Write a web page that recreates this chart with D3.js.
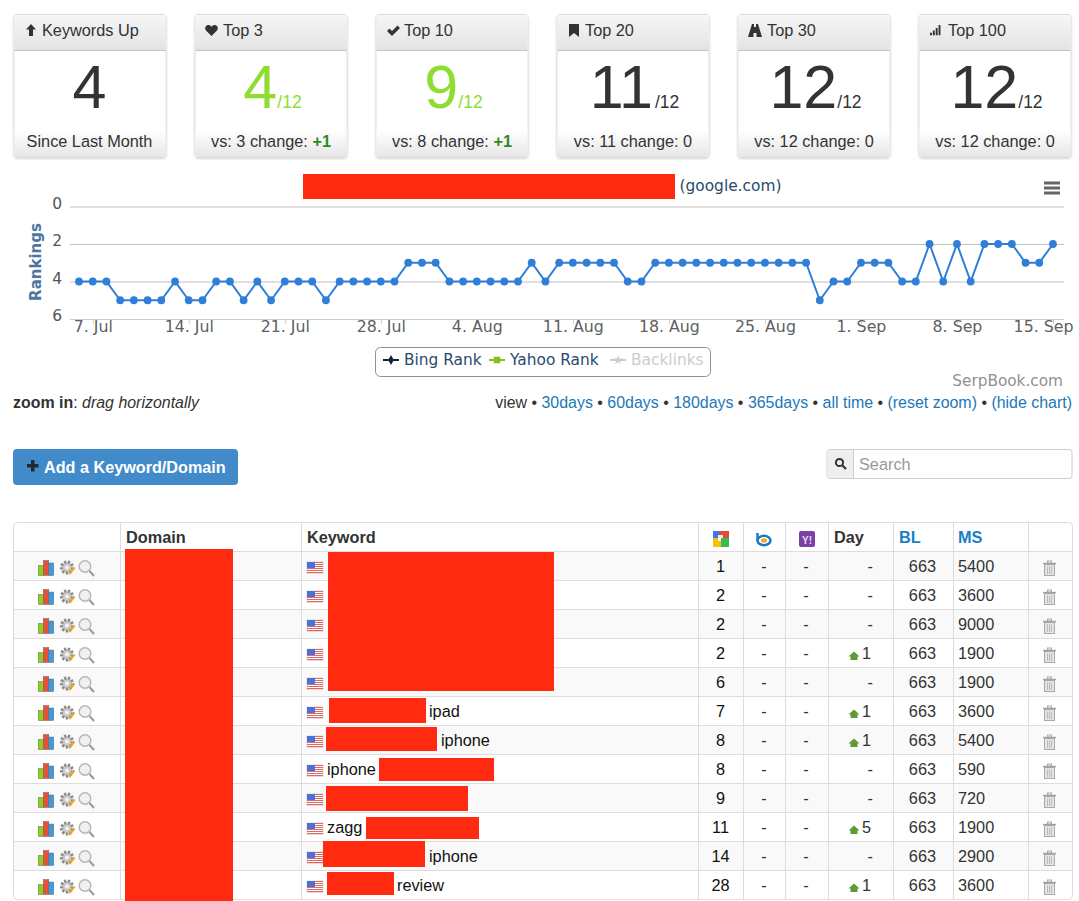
<!DOCTYPE html>
<html><head><meta charset="utf-8">
<script src="https://cdnjs.cloudflare.com/ajax/libs/d3/7.8.5/d3.min.js"></script>
<style>
html,body{margin:0;padding:0;background:#fff;overflow:hidden}
svg{display:block}
</style></head><body><svg id="c" width="1079" height="901" font-family="Liberation Sans, Arial, sans-serif"></svg>
<script>
// ---- data ----
const startDate = "2013-07-06";
const rankings = [4,4,4,5,5,5,5,4,5,5,4,4,5,4,5,4,4,4,5,4,4,4,4,4,3,3,3,4,4,4,4,4,4,3,4,3,3,3,3,3,4,4,3,3,3,3,3,3,3,3,3,3,3,3,5,4,4,3,3,3,4,4,2,4,2,4,2,2,2,3,3,2];
const yTicks = [0,2,4,6];
const legendLabels = ["Bing Rank","Yahoo Rank","Backlinks"];
const cardTitles = ["Keywords Up","Top 3","Top 10","Top 20","Top 30","Top 100"];
const cardValues = [4,4,9,11,12,12];
const cardPrev = [null,3,8,11,12,12];
const cardChange = [null,"+1","+1","0","0","0"];
const totalKeywords = 12;
const viewLinks = ["30days","60days","180days","365days","all time","(reset zoom)","(hide chart)"];
const headers = ["","Domain","Keyword","","","","Day","BL","MS",""];
const keywords = ["","","","","","ipad","iphone","iphone","","zagg","iphone","review"];
const googleRank = [1,2,2,2,6,7,8,8,9,11,14,28];
const dayChange = [0,0,0,1,0,1,1,0,0,5,0,1];
const backlinks = [663,663,663,663,663,663,663,663,663,663,663,663];
const monthlySearches = [5400,3600,9000,1900,1900,3600,5400,590,720,1900,2900,3600];

// ---- layout ----
const svg = d3.select("#c");
const RED = "#ff2a10";
const HC = "DejaVu Sans";
const defs = svg.append("defs");
function grad(id, stops){
  const g = defs.append("linearGradient").attr("id",id).attr("x1",0).attr("y1",0).attr("x2",0).attr("y2",1);
  stops.forEach(s=>g.append("stop").attr("offset",s[0]).attr("stop-color",s[1]));
}
grad("hd",[[0,"#f6f6f6"],[1,"#e3e3e3"]]);
grad("ft",[[0,"#ffffff"],[1,"#e6e6e6"]]);
const f = defs.append("filter").attr("id","sh").attr("x","-5%").attr("y","-5%").attr("width","110%").attr("height","110%");
f.append("feDropShadow").attr("dx",0).attr("dy",1).attr("stdDeviation",1).attr("flood-color","#000").attr("flood-opacity",0.16);

// ---- cards ----
const cardX = d3.scalePoint().domain(d3.range(6)).range([14,919]);
const cardW = 152, cardTop = 14, cardH = 143;
const iconPaths = [
  "M5 0 L10 5.5 L7 5.5 L7 12 L3 12 L3 5.5 L0 5.5 Z",
  "M6.5 11 L1 5.5 C-1 2.5 1 0 3.5 0 C5 0 6 .8 6.5 2 C7 .8 8 0 9.5 0 C12 0 14 2.5 12 5.5 Z",
  "M0 6 L2.5 3.5 L5 6 L10.5 0.5 L13 3 L5 11 Z",
  "M0 0 L10 0 L10 13 L5 9 L0 13 Z",
  "M4 0 L6 0 L6 3 L8 3 L8 0 L10 0 L14 13 L8.5 13 L8.5 9 L5.5 9 L5.5 13 L0 13 Z",
  "M0 9 h2 v3 h-2 Z M3 6.5 h2 v5.5 h-2 Z M6 3.5 h2 v8.5 h-2 Z M9 0 h2 v12 h-2 Z"
];
const iconOff = [[26,24],[205,25],[387,25],[569,24],[748,24],[930,25]];
const titleX = [42,223,404,585,767,948];
cardTitles.forEach((t,i)=>{
  const x = cardX(i)-.5, g = svg.append("g");
  g.append("rect").attr("x",x+.5).attr("y",cardTop+.5).attr("width",cardW).attr("height",cardH).attr("rx",3).attr("fill","#fff").attr("stroke","#dcdcdc").attr("filter","url(#sh)");
  g.append("rect").attr("x",x+1).attr("y",cardTop+1).attr("width",cardW-1).attr("height",35).attr("fill","url(#hd)");
  g.append("line").attr("x1",x+1).attr("x2",x+cardW).attr("y1",50.5).attr("y2",50.5).attr("stroke","#c4c4c4");
  g.append("rect").attr("x",x+1).attr("y",130).attr("width",cardW-1).attr("height",27).attr("fill","url(#ft)");
  const ic = g.append("path").attr("d",iconPaths[i]).attr("fill","#333").attr("transform",`translate(${iconOff[i][0]},${iconOff[i][1]})`);
  if(i===5) ic.attr("transform",`translate(${iconOff[i][0]},${iconOff[i][1]}) scale(.95,.85)`);
  g.append("text").attr("x",titleX[i]).attr("y",36).attr("font-size",16.3).attr("fill","#333").text(t);
  const cx = x + cardW/2;
  const col = (i===1||i===2) ? "#8fdc33" : "#333";
  const big = g.append("text").attr("y",108).attr("x",i>0?cx+2:cx).attr("text-anchor","middle").attr("fill",col).attr("font-size",61).text(cardValues[i]);
  if(i>0){
    big.append("tspan").attr("font-size",17.5).attr("dx",cardValues[i]===11?2:0).text("/"+totalKeywords);
    const ft = g.append("text").attr("x",cx+.5).attr("y",147).attr("text-anchor","middle").attr("font-size",16.3).attr("fill","#333").text(`vs: ${cardPrev[i]} change: `);
    ft.append("tspan").attr("font-weight",cardChange[i]==="0"?"normal":"bold").attr("fill",cardChange[i]==="0"?"#333":"#2c8a1c").text(cardChange[i]);
  } else {
    g.append("text").attr("x",cx).attr("y",147).attr("text-anchor","middle").attr("font-size",16.3).attr("fill","#333").text("Since Last Month");
  }
});

// ---- chart ----
const parse = d3.timeParse("%Y-%m-%d");
const t0 = parse(startDate);
const dates = rankings.map((_,i)=>d3.timeDay.offset(t0,i));
const x = d3.scaleTime().domain([t0,dates[dates.length-1]]).range([79,1053]);
const y = d3.scaleLinear().domain([0,6]).range([206.5,319]);
const gridG = svg.append("g").attr("transform","translate(70,0)")
  .call(d3.axisLeft(y).tickValues(yTicks).tickSize(-994).tickPadding(8).tickFormat(d3.format("d")));
gridG.select(".domain").remove();
gridG.selectAll("line").attr("stroke",d=>d===6?"#c0d0e0":"#c0c0c0");
gridG.selectAll("text").attr("font-size",15.5).attr("fill","#555").attr("dy","0.12em").attr("font-family",HC);
const xTicks = d3.timeDay.range(dates[1],d3.timeDay.offset(dates[dates.length-1],1),7);
const xG = svg.append("g").attr("transform","translate(0,319)")
  .call(d3.axisBottom(x).tickValues(xTicks).tickSize(5).tickPadding(2).tickFormat(d3.timeFormat("%-d. %b")));
xG.select(".domain").remove();
xG.selectAll("line").attr("stroke","#c0d0e0");
xG.selectAll("text").attr("font-size",15.8).attr("fill","#606060").attr("font-family",HC).attr("y",2);
xG.selectAll("text").filter((d,i)=>i===xTicks.length-1).attr("text-anchor","end").attr("x",1073-x(xTicks[xTicks.length-1]));
svg.append("text").attr("transform","translate(41,262) rotate(-90)").attr("text-anchor","middle").attr("font-family",HC).attr("font-weight","bold").attr("font-size",15).attr("fill","#4d759e").text("Rankings");
const line = d3.line().x((d,i)=>x(dates[i])).y(d=>y(d));
svg.append("path").datum(rankings).attr("d",line).attr("fill","none").attr("stroke","#2f7ed8").attr("stroke-width",2);
svg.append("g").selectAll("circle").data(rankings).join("circle").attr("cx",(d,i)=>x(dates[i])).attr("cy",d=>y(d)).attr("r",3.9).attr("fill","#2f7ed8");

// title
svg.append("rect").attr("x",303).attr("y",174).attr("width",372).attr("height",25).attr("fill",RED);
svg.append("text").attr("x",679.5).attr("y",191).attr("font-family",HC).attr("font-size",15.4).attr("fill","#274b6d").text("(google.com)");
// menu
[183,188,193].forEach(v=>svg.append("rect").attr("x",1044).attr("y",v-1.5).attr("width",16).attr("height",3).attr("fill","#666"));
// legend
svg.append("rect").attr("x",375.5).attr("y",347.5).attr("width",335).attr("height",29).attr("rx",5).attr("fill","#fff").attr("stroke","#909090");
const legX = [383,489,610], legC = ["#0d233a","#8bbc21","#cccccc"], txtC = ["#274b6d","#274b6d","#cccccc"];
legendLabels.forEach((l,i)=>{
  svg.append("line").attr("x1",legX[i]).attr("x2",legX[i]+16).attr("y1",360).attr("y2",360).attr("stroke",legC[i]).attr("stroke-width",2);
  const sym = i===0?d3.symbolDiamond:i===1?d3.symbolSquare:d3.symbolStar;
  svg.append("path").attr("d",d3.symbol(sym,i===1?42:28)()).attr("transform",`translate(${legX[i]+8},360)`).attr("fill",legC[i]);
  svg.append("text").attr("x",legX[i]+21).attr("y",365).attr("font-family",HC).attr("font-size",15.4).attr("fill",txtC[i]).text(l);
});
svg.append("text").attr("x",1063).attr("y",386).attr("text-anchor","end").attr("font-family",HC).attr("font-size",15.3).attr("fill","#909090").text("SerpBook.com");

// controls row
const zt = svg.append("text").attr("x",13).attr("y",408).attr("font-size",15.95).attr("fill","#333");
zt.append("tspan").attr("font-weight","bold").text("zoom in");
zt.append("tspan").text(": ");
zt.append("tspan").attr("font-style","italic").text("drag horizontally");
const vt = svg.append("text").attr("x",1072).attr("y",408).attr("text-anchor","end").attr("font-size",15.95).attr("fill","#333");
vt.append("tspan").text("view • ");
viewLinks.forEach((l,i)=>{
  vt.append("tspan").attr("fill","#1a78b8").text(l);
  if(i<viewLinks.length-1) vt.append("tspan").text(" • ");
});

// button
svg.append("rect").attr("x",13).attr("y",449).attr("width",225).attr("height",36).attr("rx",4).attr("fill","#428bca");
svg.append("path").attr("d","M31 460 h3.5 v4 h4 v3.5 h-4 v4 h-3.5 v-4 h-4 v-3.5 h4 Z").attr("fill","#1f2a33");
svg.append("text").attr("x",44).attr("y",473).attr("font-size",16.2).attr("font-weight","bold").attr("fill","#fff").text("Add a Keyword/Domain");

// search
svg.append("rect").attr("x",827).attr("y",449.5).attr("width",245).attr("height",29).attr("rx",3).attr("fill","#fff").attr("stroke","#ccc");
svg.append("rect").attr("x",827.5).attr("y",450).attr("width",26).attr("height",28).attr("fill","#eee");
svg.append("line").attr("x1",853.5).attr("x2",853.5).attr("y1",450).attr("y2",478).attr("stroke","#ccc");
svg.append("circle").attr("cx",839.5).attr("cy",462.5).attr("r",3.6).attr("fill","none").attr("stroke","#333").attr("stroke-width",2);
svg.append("line").attr("x1",842.5).attr("y1",465.5).attr("x2",846).attr("y2",469).attr("stroke","#333").attr("stroke-width",2.2);
svg.append("text").attr("x",859).attr("y",470).attr("font-size",16.3).attr("fill","#999").text("Search");

// ---- table ----
const colEdges = [13.5,120.5,301.5,698.5,743.5,785.5,828.5,893.5,953.5,1028.5,1072.5];
const rows = d3.range(keywords.length);
const rowY = d3.scaleBand().domain(rows).range([551.5,899.5]);
const tableG = svg.append("g");
rows.forEach(r=>{ if(r%2===0) tableG.append("rect").attr("x",14).attr("y",rowY(r)).attr("width",1058).attr("height",rowY.bandwidth()).attr("fill","#f9f9f9"); });
tableG.append("rect").attr("x",13.5).attr("y",522.5).attr("width",1059).attr("height",377).attr("rx",4).attr("fill","none").attr("stroke","#ddd");
rows.forEach(r=>tableG.append("line").attr("x1",14).attr("x2",1072).attr("y1",rowY(r)).attr("y2",rowY(r)).attr("stroke","#ddd"));
colEdges.slice(1,-1).forEach(c=>tableG.append("line").attr("x1",c).attr("x2",c).attr("y1",523).attr("y2",899).attr("stroke","#ddd"));

// header
const hx = [0,126,307,0,0,0,834,899,958,0];
headers.forEach((h,i)=>{ if(h) svg.append("text").attr("x",hx[i]).attr("y",543).attr("font-size",16.3).attr("font-weight","bold").attr("fill",(h==="BL"||h==="MS")?"#1a80c4":"#333").text(h); });
// google icon
const gi = svg.append("g").attr("transform","translate(713,531)");
[[0,0,6,7,"#3b78e7"],[6,0,10,9,"#de4b39"],[0,7,8,9,"#f4c20d"],[8,9,8,7,"#3cba54"],[8,7,8,2,"#3cba54"]].forEach(a=>gi.append("rect").attr("x",a[0]).attr("y",a[1]).attr("width",a[2]).attr("height",a[3]).attr("fill",a[4]));
gi.append("path").attr("d","M5 4 h5 v3 h-2 v3 h-3 Z").attr("fill","#fff").attr("opacity",.85);
// bing icon
const bi = svg.append("g");
bi.append("line").attr("x1",757.5).attr("x2",757.5).attr("y1",533).attr("y2",541).attr("stroke","#1878d0").attr("stroke-width",2.5);
bi.append("ellipse").attr("cx",764).attr("cy",540.5).attr("rx",6.5).attr("ry",4.7).attr("fill","#fff").attr("stroke","#1878d0").attr("stroke-width",2.5);
bi.append("ellipse").attr("cx",764).attr("cy",540.5).attr("rx",3).attr("ry",2.2).attr("fill","#f5a623");
// yahoo icon
svg.append("rect").attr("x",799).attr("y",531).attr("width",16).attr("height",16).attr("rx",2).attr("fill","#7b3fa6");
svg.append("text").attr("x",807).attr("y",544).attr("text-anchor","middle").attr("font-size",10).attr("font-weight","bold").attr("fill","#e9dcf5").text("Y!");

function rowIcons(g){
  [[38.3,13.5,5,"#8fd017"],[43.3,8.5,5.5,"#e8503a"],[48.8,11,4.9,"#3d9be0"]].forEach(a=>g.append("rect").attr("x",a[0]).attr("y",a[1]).attr("width",a[2]).attr("height",23.5-a[1]).attr("fill",a[3]).attr("stroke","#666").attr("stroke-width",.5));
  g.append("circle").attr("cx",67).attr("cy",15.5).attr("r",5.6).attr("fill","#c9c9c9").attr("stroke","#8a8a8a").attr("stroke-width",3).attr("stroke-dasharray","2.2 1.6");
  g.append("circle").attr("cx",67).attr("cy",15.5).attr("r",2).attr("fill","#f3f3f3");
  g.append("line").attr("x1",69).attr("y1",22).attr("x2",74.5).attr("y2",15.5).attr("stroke","#e9a526").attr("stroke-width",2.2);
  g.append("circle").attr("cx",85).attr("cy",14.5).attr("r",5.8).attr("fill","#edf1f6").attr("stroke","#b5b5b5").attr("stroke-width",1.4);
  g.append("line").attr("x1",89.5).attr("y1",19).attr("x2",94).attr("y2",24).attr("stroke","#999").attr("stroke-width",2);
}
function flag(g){
  g.append("g").attr("transform","translate(307,10)").call(f=>{
    f.append("rect").attr("width",16).attr("height",11.5).attr("fill","#fff").attr("stroke","#c9b8b8").attr("stroke-width",.5);
    [0,2,4,6,8,10].forEach(v=>f.append("rect").attr("y",v).attr("width",16).attr("height",1).attr("fill","#dd6a62"));
    f.append("rect").attr("width",8).attr("height",6).attr("fill","#4a72d8");
  });
}
function trash(g){
  g.append("rect").attr("x",1044.5).attr("y",12.5).attr("width",10).attr("height",11).attr("fill","#e4e4e4").attr("stroke","#a9a9a9");
  g.append("line").attr("x1",1043).attr("x2",1056).attr("y1",11.5).attr("y2",11.5).attr("stroke","#a0a0a0").attr("stroke-width",1.4);
  g.append("rect").attr("x",1047.5).attr("y",9).attr("width",4).attr("height",2).attr("fill","none").attr("stroke","#a9a9a9");
  [1047.5,1049.5,1051.5].forEach(v=>g.append("line").attr("x1",v).attr("x2",v).attr("y1",14.5).attr("y2",22).attr("stroke","#bbb"));
}
const kwX = [0,0,0,0,0,429,441,327,0,327,429,397];
const num = (g,xp,a,t,c)=>g.append("text").attr("x",xp).attr("y",19.5).attr("text-anchor",a).attr("font-size",16.3).attr("fill",c).text(t);
rows.forEach(r=>{
  const g = svg.append("g").attr("transform",`translate(0,${rowY(r)+.5})`);
  rowIcons(g); flag(g); trash(g);
  if(keywords[r]) g.append("text").attr("x",kwX[r]).attr("y",19.5).attr("font-size",16.3).attr("fill","#111").text(keywords[r]);
  num(g,720.5,"middle",googleRank[r],"#111");
  num(g,764,"middle","-","#333");
  num(g,806,"middle","-","#333");
  if(dayChange[r]){
    g.append("path").attr("d","M854 12.5 L859.5 17.5 L857.5 17.5 L857.5 21 L850.5 21 L850.5 17.5 L848.5 17.5 Z").attr("fill","#5f9a32");
    num(g,871,"end",dayChange[r],"#333");
  } else num(g,873,"end","-","#333");
  num(g,936,"end",backlinks[r],"#333");
  num(g,958,"start",monthlySearches[r],"#333");
});

// redactions
const redactions = [[125,549,108,352],[328,552,226,139],[329,698,97,25],[326,727,111,24],[379,758,115,23],[326,786,142,25],[366,817,113,22],[323,841,102,26],[327,872,67,23]];
svg.append("g").selectAll("rect").data(redactions).join("rect").attr("x",d=>d[0]).attr("y",d=>d[1]).attr("width",d=>d[2]).attr("height",d=>d[3]).attr("fill",RED);
</script></body></html>
